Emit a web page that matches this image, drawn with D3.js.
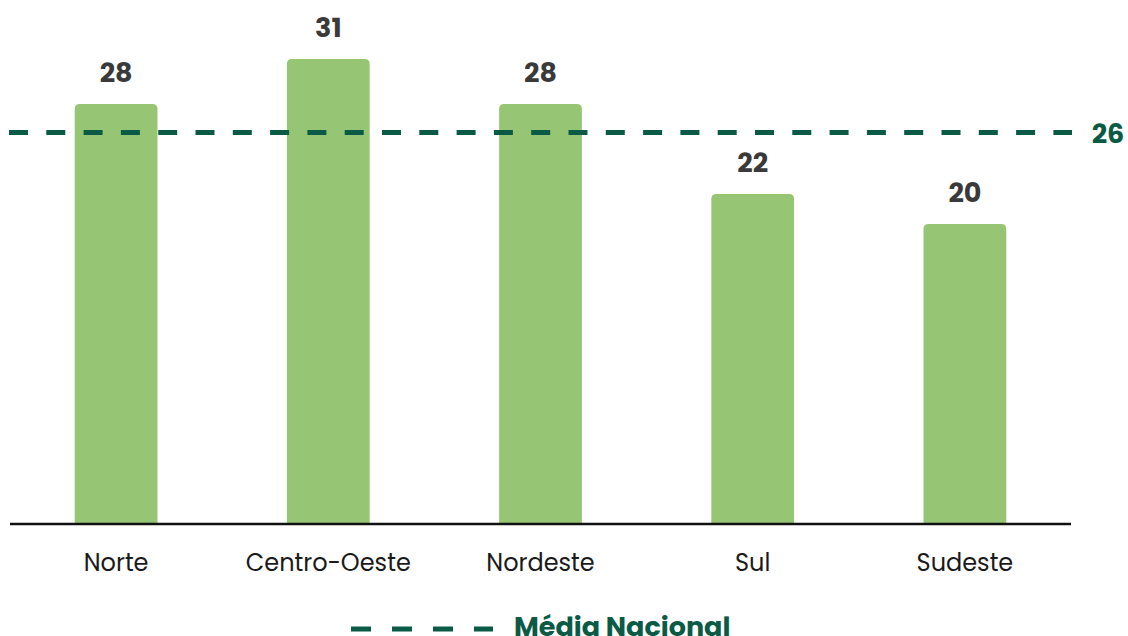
<!DOCTYPE html>
<html>
<head>
<meta charset="utf-8">
<script src="https://cdn.jsdelivr.net/npm/d3@7"></script>
<style>
  html, body { margin: 0; padding: 0; background: #fff; }
  svg { display: block; }
</style>
</head>
<body>
<svg id="chart" width="1128" height="636"></svg>
<script>
const categories = ["Norte", "Centro-Oeste", "Nordeste", "Sul", "Sudeste"];
const values = [28, 31, 28, 22, 20];
const nationalMean = 26.1;
const meanLabel = "26";
const legendLabel = "Média Nacional";

const W = 1128, H = 636;
const baseY = 524;
const svg = d3.select("#chart");
const FONT = "Poppins, Inter, 'Open Sans', sans-serif";

const x = d3.scaleBand().domain(categories).range([10, 1071]).paddingInner(0.61).paddingOuter(0.305);
const y = d3.scaleLinear().domain([0, 31]).range([baseY, baseY - 31 * 15]);

const barColor = "#96c673";
const darkGreen = "#0b5a46";
const r = 5;

// bars with rounded top corners
svg.append("g").selectAll("path").data(values).join("path")
  .attr("fill", barColor)
  .attr("d", (d, i) => {
    const x0 = x(categories[i]), w = x.bandwidth(), y0 = y(d), y1 = y(0);
    return `M${x0},${y1} L${x0},${y0 + r} Q${x0},${y0} ${x0 + r},${y0} L${x0 + w - r},${y0} Q${x0 + w},${y0} ${x0 + w},${y0 + r} L${x0 + w},${y1} Z`;
  });

// axis
const xAxis = d3.axisBottom(x).tickSize(0).tickPadding(30);
const gx = svg.append("g").attr("transform", `translate(0,${baseY})`).call(xAxis);
gx.select(".domain").attr("stroke", "#111").attr("stroke-width", 2.5).attr("d", "M10,0H1071");
gx.selectAll("text").attr("font-family", FONT).attr("font-size", 24).attr("fill", "#1a1a1a");

// value labels
svg.append("g").selectAll("text").data(values).join("text")
  .attr("x", (d, i) => x(categories[i]) + x.bandwidth() / 2)
  .attr("y", d => y(d) - 22)
  .attr("text-anchor", "middle")
  .attr("font-family", FONT).attr("font-weight", 700).attr("font-size", 27)
  .attr("fill", "#3a3a3a")
  .text(d => d);

// mean line
svg.append("line")
  .attr("x1", 9).attr("x2", 1072)
  .attr("y1", y(nationalMean)).attr("y2", y(nationalMean))
  .attr("stroke", darkGreen).attr("stroke-width", 5)
  .attr("stroke-dasharray", "19,18.3");

svg.append("text")
  .attr("x", 1108).attr("y", y(nationalMean) + 10)
  .attr("text-anchor", "middle")
  .attr("font-family", FONT).attr("font-weight", 700).attr("font-size", 27)
  .attr("fill", darkGreen)
  .text(meanLabel);

// legend
const lg = svg.append("g");
lg.append("line")
  .attr("x1", 351).attr("x2", 493).attr("y1", 629).attr("y2", 629)
  .attr("stroke", darkGreen).attr("stroke-width", 5)
  .attr("stroke-dasharray", "20,21");
lg.append("text")
  .attr("x", 514).attr("y", 636)
  .attr("font-family", FONT).attr("font-weight", 700).attr("font-size", 27)
  .attr("fill", darkGreen)
  .text(legendLabel);
</script>
</body>
</html>
